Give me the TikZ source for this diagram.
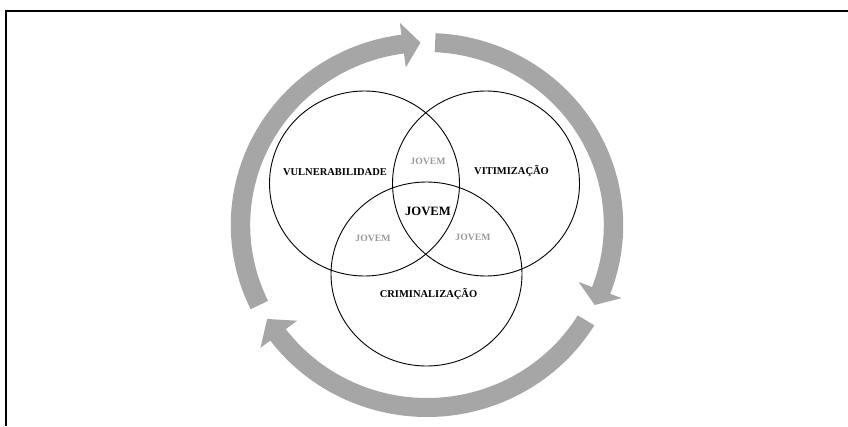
\documentclass[tikz,border=0pt]{standalone}
\usepackage{fontspec}
\setmainfont{Liberation Serif}
\usetikzlibrary{shapes.geometric}
\definecolor{ringgray}{HTML}{A6A6A6}
\definecolor{txtgray}{HTML}{999999}
\begin{document}
\begin{tikzpicture}[x=1pt,y=1pt,
  venn/.style={ellipse,draw=black,line width=0.9pt,inner sep=0pt},
  lbl/.style={font=\fontsize{10.5}{12}\selectfont\bfseries,anchor=base,inner sep=0pt},
  glbl/.style={font=\fontsize{9.7}{12}\selectfont\bfseries,text=txtgray,anchor=base,inner sep=0pt},
  blbl/.style={font=\fontsize{12.7}{14}\selectfont\bfseries,anchor=base,inner sep=0pt},
  ringarrow/.style={fill=ringgray}]
\useasboundingbox (0,0) rectangle (848,-426);
% frame
\draw[line width=2pt] (6,-426) -- (6,-11) -- (848,-11);
% circular arrows
\begin{scope}[shift={(427,-225)},xscale=1.022]
\foreach \a/\b/\t in {206/97.5/92, 87.5/-21/-26, -31.5/-143/-149}{
  \fill[ringarrow] (\a:192) arc[start angle=\a, end angle=\b, radius=192]
    -- (\b:204) -- (\t:182.5) -- (\b:159) -- (\b:173)
    arc[start angle=\b, end angle=\a, radius=173] -- cycle;
}
\end{scope}
% venn circles
\node[venn,minimum width=190pt,minimum height=185pt] (cv) at (364.5,-183.5) {};
\node[venn,minimum width=187pt,minimum height=185pt] (cw) at (486,-183.5) {};
\node[venn,minimum width=191pt,minimum height=184pt] (cc) at (426.5,-274) {};
% labels
\node[lbl] (tv) at (335,-175.5) {VULNERABILIDADE};
\node[lbl] (tw) at (511.5,-174.5) {VITIMIZAÇÃO};
\node[lbl] (tc) at (428.5,-297.5) {CRIMINALIZAÇÃO};
\node[blbl] (tj) at (428,-215) {JOVEM};
\node[glbl] (j1) at (428,-164.5) {JOVEM};
\node[glbl] (j2) at (373,-241.5) {JOVEM};
\node[glbl] (j3) at (473,-240.5) {JOVEM};
\end{tikzpicture}
\end{document}
